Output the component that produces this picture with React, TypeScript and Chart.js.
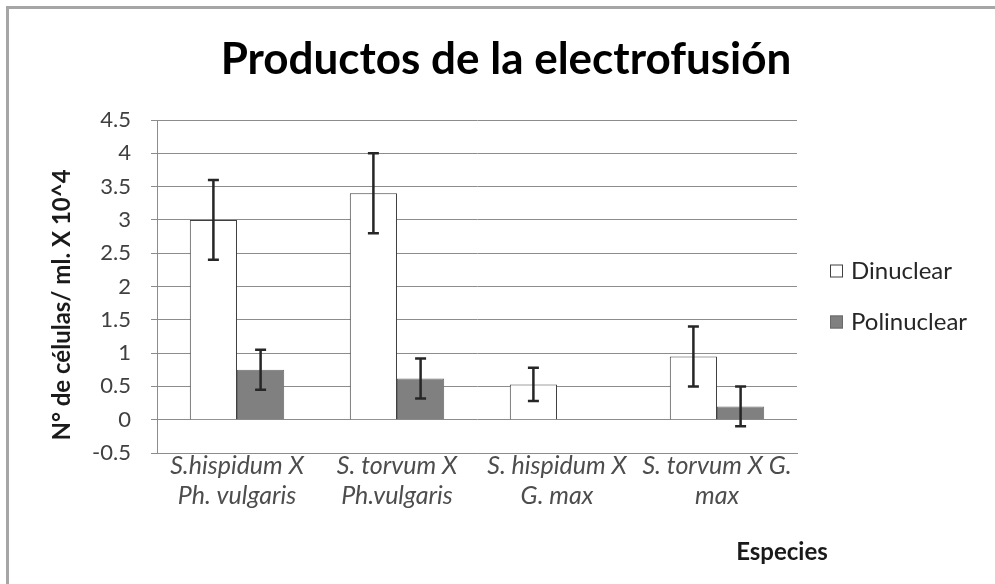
import React, { useEffect, useRef } from "react";
import { Chart, registerables } from "chart.js";

Chart.register(...registerables);

const categories: string[][] = [
  ["S.hispidum X", "Ph. vulgaris"],
  ["S. torvum X", "Ph.vulgaris"],
  ["S. hispidum X", "G. max"],
  ["S. torvum X G.", "max"],
];
const dinuclear = [3.0, 3.4, 0.53, 0.95];
const dinuclearErr = [0.6, 0.6, 0.25, 0.45];
const polinuclear = [0.75, 0.62, 0, 0.2];
const polinuclearErr: (number | null)[] = [0.3, 0.3, null, 0.3];
const yTicks = [-0.5, 0, 0.5, 1, 1.5, 2, 2.5, 3, 3.5, 4, 4.5];

const FONT = "Lato, 'Open Sans', sans-serif";

const errorBarPlugin = {
  id: "errorBars",
  afterDatasetsDraw(chart: any) {
    const ctx = chart.ctx;
    const yScale = chart.scales.y;
    chart.data.datasets.forEach((ds: any, di: number) => {
      const meta = chart.getDatasetMeta(di);
      const errs = ds.errors as (number | null)[];
      meta.data.forEach((bar: any, i: number) => {
        const e = errs[i];
        if (e == null) return;
        const v = ds.data[i];
        const top = yScale.getPixelForValue(v + e);
        const bot = yScale.getPixelForValue(v - e);
        ctx.save();
        ctx.strokeStyle = "#262626";
        ctx.lineWidth = 2.5;
        ctx.beginPath();
        ctx.moveTo(bar.x, top);
        ctx.lineTo(bar.x, bot);
        ctx.moveTo(bar.x - 5.5, top);
        ctx.lineTo(bar.x + 5.5, top);
        ctx.moveTo(bar.x - 5.5, bot);
        ctx.lineTo(bar.x + 5.5, bot);
        ctx.stroke();
        ctx.restore();
      });
    });
  },
};

const decorPlugin = {
  id: "decor",
  afterDraw(chart: any) {
    const ctx = chart.ctx;
    ctx.save();
    // frame
    ctx.strokeStyle = "#a6a6a6";
    ctx.lineWidth = 3;
    ctx.strokeRect(7.5, 7.5, 1100, 700);
    // title
    ctx.fillStyle = "#000000";
    ctx.font = `bold 44px ${FONT}`;
    ctx.textAlign = "center";
    ctx.textBaseline = "middle";
    ctx.fillText("Productos de la electrofusión", 506, 60);
    // y axis title
    ctx.save();
    ctx.translate(62, 305);
    ctx.rotate(-Math.PI / 2);
    ctx.font = `bold 24px ${FONT}`;
    ctx.fillStyle = "#1a1a1a";
    ctx.fillText("N° de células/ ml. X 10^4", 0, 0);
    ctx.restore();
    // x axis title
    ctx.font = `bold 24px ${FONT}`;
    ctx.fillStyle = "#1a1a1a";
    ctx.fillText("Especies", 782, 552);
    // legend
    const items = chart.data.datasets;
    const ys = [271, 322];
    items.forEach((ds: any, i: number) => {
      const y = ys[i];
      ctx.fillStyle = ds.backgroundColor;
      ctx.fillRect(830, y - 6.5, 13, 13);
      ctx.strokeStyle = ds.borderColor;
      ctx.lineWidth = 1;
      ctx.strokeRect(830.5, y - 6, 12, 12);
      ctx.fillStyle = "#262626";
      ctx.font = `24px ${FONT}`;
      ctx.textAlign = "left";
      ctx.fillText(ds.label, 851, y);
    });
    ctx.restore();
  },
};

export default function App() {
  const ref = useRef<HTMLCanvasElement | null>(null);
  useEffect(() => {
    document.body.style.margin = "0";
    if (!ref.current) return;
    const chart = new Chart(ref.current, {
      type: "bar",
      data: {
        labels: categories,
        datasets: [
          {
            label: "Dinuclear",
            data: dinuclear,
            errors: dinuclearErr,
            backgroundColor: "#ffffff",
            borderColor: "#404040",
            borderWidth: 1,
          } as any,
          {
            label: "Polinuclear",
            data: polinuclear,
            errors: polinuclearErr,
            backgroundColor: "#808080",
            borderColor: "#6a6a6a",
            borderWidth: 1,
          } as any,
        ],
      },
      options: {
        animation: false,
        responsive: false,
        layout: { padding: { left: 0, top: 120, right: 198, bottom: 0 } },
        datasets: { bar: { categoryPercentage: 0.59, barPercentage: 1 } },
        plugins: {
          legend: { display: false },
          title: { display: false },
          tooltip: { enabled: false },
        },
        scales: {
          x: {
            grid: { display: false },
            border: { display: true, color: "#8c8c8c", width: 1 },
            ticks: {
              color: "#4d4d4d",
              font: { family: FONT, size: 25, style: "italic", lineHeight: 1.2 },
              padding: -10,
              maxRotation: 0,
              autoSkip: false,
            },
            afterFit(scale: any) {
              scale.height = 584 - 453;
            },
          },
          y: {
            min: -0.5,
            max: 4.5,
            afterBuildTicks(scale: any) {
              scale.ticks = yTicks.map((v) => ({ value: v }));
            },
            grid: { color: "#8c8c8c", lineWidth: 1, tickLength: 6 },
            border: { display: true, color: "#8c8c8c", width: 1 },
            ticks: {
              color: "#404040",
              font: { family: FONT, size: 22 },
              padding: 20,
              callback: (v: any) => String(v),
            },
            afterFit(scale: any) {
              scale.width = 157;
            },
          },
        },
      },
      plugins: [errorBarPlugin, decorPlugin],
    });
    return () => chart.destroy();
  }, []);
  return <canvas ref={ref} width={995} height={584} style={{ display: "block" }} />;
}
